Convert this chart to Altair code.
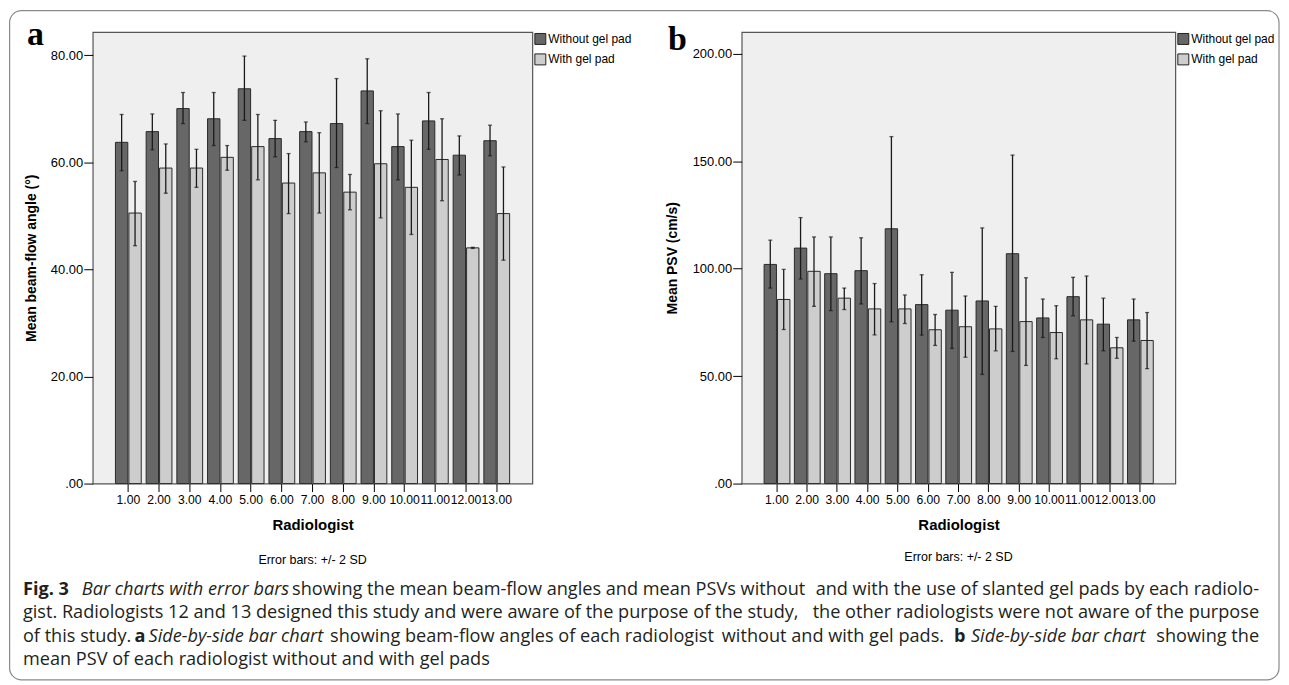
import altair as alt
import pandas as pd

# ---------------- data ----------------
radiologists = ["1.00", "2.00", "3.00", "4.00", "5.00", "6.00", "7.00",
                "8.00", "9.00", "10.00", "11.00", "12.00", "13.00"]
groups = ["Without gel pad", "With gel pad"]

# panel a: mean beam-flow angle (deg), with +/- 2 SD limits
angle_without_mean = [63.7, 65.7, 70.0, 68.1, 73.7, 64.4, 65.7, 67.2, 73.3, 62.9, 67.7, 61.3, 64.0]
angle_without_lo = [58.4, 62.3, 67.2, 63.1, 67.8, 61.0, 63.8, 59.0, 67.2, 56.7, 62.4, 57.6, 61.2]
angle_without_hi = [68.9, 69.0, 73.0, 73.0, 79.8, 67.8, 67.5, 75.6, 79.3, 69.0, 73.0, 64.9, 66.9]
angle_with_mean = [50.5, 58.9, 58.9, 60.9, 62.9, 56.1, 58.0, 54.4, 59.7, 55.3, 60.5, 44.0, 50.4]
angle_with_lo = [44.4, 54.2, 55.3, 58.5, 56.7, 50.4, 50.5, 51.1, 49.6, 46.5, 52.8, 43.9, 41.7]
angle_with_hi = [56.4, 63.4, 62.4, 63.1, 68.9, 61.6, 65.5, 57.7, 69.6, 64.1, 68.1, 44.1, 59.1]

# panel b: mean PSV (cm/s), with +/- 2 SD limits
psv_without_mean = [102.0, 109.6, 97.7, 99.1, 118.6, 83.3, 80.7, 85.0, 107.0, 77.1, 87.0, 74.2, 76.2]
psv_without_lo = [91.0, 95.2, 80.5, 83.6, 75.3, 69.1, 62.9, 50.8, 61.5, 68.0, 78.1, 61.8, 66.3]
psv_without_hi = [113.3, 123.8, 114.8, 114.4, 161.5, 97.2, 98.3, 119.0, 152.9, 85.9, 96.0, 86.3, 85.9]
psv_with_mean = [85.7, 98.8, 86.3, 81.3, 81.3, 71.6, 73.0, 72.0, 75.4, 70.3, 76.2, 63.2, 66.6]
psv_with_lo = [71.7, 82.5, 81.0, 69.2, 74.5, 64.3, 58.8, 61.8, 55.0, 58.1, 55.7, 58.3, 53.5]
psv_with_hi = [99.7, 114.8, 91.0, 93.1, 87.8, 78.7, 87.3, 82.5, 95.8, 82.8, 96.6, 68.0, 79.6]

angle_ticks = [0, 20, 40, 60, 80]
psv_ticks = [0, 50, 100, 150, 200]

colors = ["#676767", "#cdcdcd"]
AX_FONT = "Liberation Sans"
CAP_FONT = "Open Sans"
CAP_SIZE = 18.2


def long_table(m0, lo0, hi0, m1, lo1, hi1):
    rows = []
    for i, r in enumerate(radiologists):
        rows.append({"radiologist": r, "group": groups[0], "mean": m0[i], "lo": lo0[i], "hi": hi0[i]})
        rows.append({"radiologist": r, "group": groups[1], "mean": m1[i], "lo": lo1[i], "hi": hi1[i]})
    return pd.DataFrame(rows)


one = pd.DataFrame({"k": [0]})

# ---------------- caption (page coordinates, drawn inside panel a's layer) ----------------
PLOT_LEFT = 92   # page x of panel a plot area
PLOT_TOP = 30    # page y of panel a plot area
RIGHT = 1262     # right margin of the justified caption lines


def seg(text, px, baseline_y, style="normal", align="left"):
    kw = dict(align=align, baseline="alphabetic", font=CAP_FONT, fontSize=CAP_SIZE,
              color="#231f20", text=text)
    if style == "bold":
        kw["fontWeight"] = "bold"
    if style == "italic":
        kw["fontStyle"] = "italic"
    return alt.Chart(one).mark_text(**kw).encode(
        x=alt.value(px - PLOT_LEFT), y=alt.value(baseline_y - PLOT_TOP))


segments = [
    seg("Fig. 3", 22, 595, "bold"),
    seg("Bar charts with error bars", 81, 595, "italic"),
    seg("showing the mean beam-flow angles and mean PSVs without", 292, 595),
    seg("and with the use of slanted gel pads by each radiolo-", RIGHT, 595, align="right"),
    seg("gist. Radiologists 12 and 13 designed this study and were aware of the purpose of the study,", 22, 618),
    seg("the other radiologists were not aware of the purpose", RIGHT, 618, align="right"),
    seg("of this study.", 22, 642),
    seg("a", 134, 642, "bold"),
    seg("Side-by-side bar chart", 148, 642, "italic"),
    seg("showing beam-flow angles of each radiologist", 330, 642),
    seg("without and with gel pads.", 946, 642, align="right"),
    seg("b", 956, 642, "bold"),
    seg("Side-by-side bar chart", 973, 642, "italic"),
    seg("showing the", RIGHT, 642, align="right"),
    seg("mean PSV of each radiologist without and with gel pads", 22, 665),
]

frame = alt.Chart(one).mark_rect(fill="transparent", stroke="#8a8a8a", strokeWidth=1.2,
                                 cornerRadius=12).encode(
    x=alt.value(8.6 - PLOT_LEFT), x2=alt.value(1282 - PLOT_LEFT),
    y=alt.value(8.6 - PLOT_TOP), y2=alt.value(680 - PLOT_TOP))


def panel(df, ymax, yticks, ytitle, letter, letter_x, letter_y, width, height,
          title_pad, err_y, extra=()):
    xaxis = alt.Axis(title="Radiologist", labelAngle=0, tickSize=8, tickColor="#000",
                     tickWidth=1, labelPadding=2, domain=False, labelFont=AX_FONT,
                     labelFontSize=12.2, labelColor="#000", titleFont=AX_FONT,
                     titleFontSize=15, titleFontWeight="bold", titlePadding=12,
                     titleColor="#000")
    xs = alt.X("radiologist:N", sort=radiologists,
               scale=alt.Scale(paddingInner=0.16, paddingOuter=0.74), axis=xaxis)
    xo = alt.XOffset("group:N", sort=groups,
                     scale=alt.Scale(domain=groups, paddingInner=0.08, paddingOuter=0))
    yscale = alt.Scale(domain=[0, ymax], nice=False)
    yaxis = alt.Axis(title=ytitle, values=yticks,
                     labelExpr="datum.value == 0 ? '.00' : format(datum.value, '.2f')",
                     grid=False, domain=False, tickSize=9, tickColor="#000", tickWidth=1,
                     labelPadding=1, labelFont=AX_FONT, labelFontSize=13, labelColor="#000",
                     titleFont=AX_FONT, titleFontSize=14, titleFontWeight="bold",
                     titlePadding=title_pad, titleColor="#000")
    base = alt.Chart(df)
    bars = base.mark_bar(stroke="#2a2a2a", strokeWidth=1).encode(
        x=xs, xOffset=xo,
        y=alt.Y("mean:Q", scale=yscale, axis=yaxis),
        color=alt.Color("group:N", sort=groups,
                        scale=alt.Scale(domain=groups, range=colors),
                        legend=alt.Legend(title=None, orient="none", legendX=width + 2,
                                          legendY=1, symbolType="square", symbolSize=121,
                                          symbolStrokeColor="#222", symbolStrokeWidth=1,
                                          symbolOpacity=1, labelFont=AX_FONT,
                                          labelFontSize=12, labelColor="#000",
                                          labelOffset=2, rowPadding=4.5, padding=0)),
    )
    rules = base.mark_rule(color="#1a1a1a", strokeWidth=1.3).encode(
        x=xs, xOffset=xo,
        y=alt.Y("lo:Q", scale=yscale, axis=yaxis), y2="hi:Q")
    cap_lo = base.mark_tick(color="#1a1a1a", thickness=1.3, size=4).encode(
        x=xs, xOffset=xo, y=alt.Y("lo:Q", scale=yscale, axis=yaxis))
    cap_hi = base.mark_tick(color="#1a1a1a", thickness=1.3, size=4).encode(
        x=xs, xOffset=xo, y=alt.Y("hi:Q", scale=yscale, axis=yaxis))
    letter_t = alt.Chart(pd.DataFrame({"t": [letter]})).mark_text(
        align="left", baseline="alphabetic", font="Liberation Serif", fontSize=34,
        fontWeight="bold", color="#000").encode(
        text="t:N", x=alt.value(letter_x), y=alt.value(letter_y))
    err_t = alt.Chart(pd.DataFrame({"t": ["Error bars: +/- 2 SD"]})).mark_text(
        align="center", baseline="middle", font=AX_FONT, fontSize=12.5,
        color="#000").encode(
        text="t:N", x=alt.value(width / 2), y=alt.value(err_y))
    return alt.layer(bars, rules, cap_lo, cap_hi, letter_t, err_t, *extra).properties(
        width=width, height=height,
        view=alt.ViewBackground(fill="#efefef", stroke="#555555", strokeWidth=1.2))


df_a = long_table(angle_without_mean, angle_without_lo, angle_without_hi,
                  angle_with_mean, angle_with_lo, angle_with_hi)
df_b = long_table(psv_without_mean, psv_without_lo, psv_without_hi,
                  psv_with_mean, psv_with_lo, psv_with_hi)

pa = panel(df_a, 84.3, angle_ticks, "Mean beam-flow angle (°)", "a", -66, 13, 441, 453, 12, 530,
           extra=[frame] + segments)
pb = panel(df_b, 210.2, psv_ticks, "Mean PSV (cm/s)", "b", -74, 18, 435, 453, 13, 527)

chart = alt.hconcat(pa, pb, spacing=210, bounds="flush").resolve_scale(
    color="independent").properties(padding=0, background="white")

chart.save("out.html", embed_options={"renderer": "svg", "actions": False})
